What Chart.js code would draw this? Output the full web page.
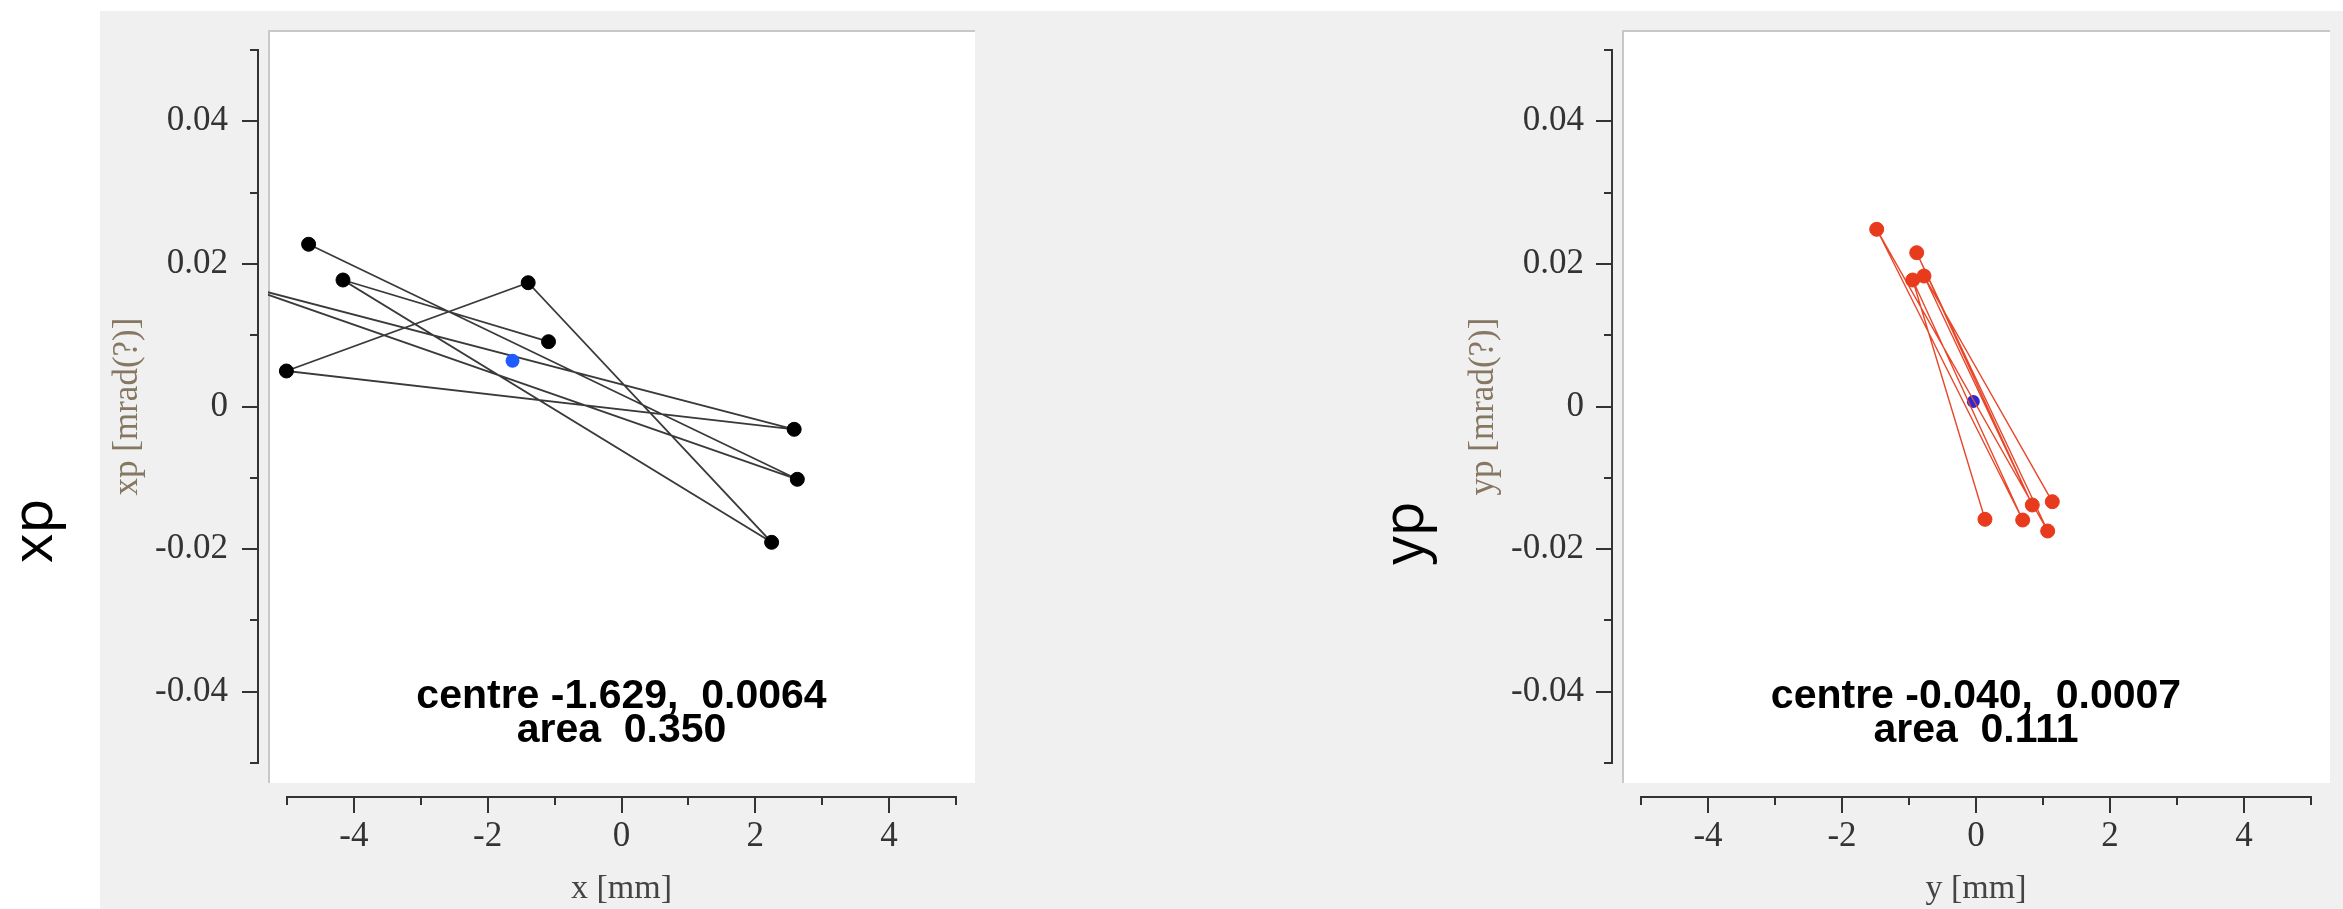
<!DOCTYPE html>
<html>
<head>
<meta charset="utf-8">
<script src="https://cdn.jsdelivr.net/npm/chart.js@4.4.1/dist/chart.umd.min.js"></script>
<style>
html,body{margin:0;padding:0;background:#fff;width:2343px;height:909px;overflow:hidden;position:relative}
#bg{position:absolute;left:100px;top:11px;width:2243px;height:898px;background:#f0f0f0}
canvas{position:absolute}
.big{position:absolute;width:140px;height:56px;line-height:56px;text-align:center;font-family:"Open Sans";font-size:57px;color:#000;transform:rotate(-90deg);white-space:nowrap}
</style>
</head>
<body>
<div id="bg"></div>
<div class="big" style="left:-40px;top:503px">xp</div>
<div class="big" style="left:1331px;top:505px">yp</div>
<canvas id="c1" width="1000" height="898" style="left:100px;top:11px"></canvas>
<canvas id="c2" width="903" height="898" style="left:1440px;top:11px"></canvas>
<script>
// ---- data ----
const xTrackX  = [-1.091, -4.163, 2.244, -1.395, -5.009, 2.581, -5.70, 2.628, -4.677];
const xTrackXP = [0.00909, 0.01774, -0.01905, 0.01736, 0.00498, -0.00320, 0.01704, -0.01021, 0.02275];
const yTrackY  = [0.134, -0.945, 0.697, -1.482, 1.070, -0.885, 0.840, -0.776, 1.139];
const yTrackYP = [-0.01582, 0.01774, -0.01592, 0.02485, -0.01746, 0.02157, -0.01381, 0.01830, -0.01335];
const centreX  = [-1.629, -0.040];
const centreXP = [0.0064, 0.0007];
const areas    = [0.350, 0.111];
const xTickValues = [-5, -4, -3, -2, -1, 0, 1, 2, 3, 4, 5];
const xTickLabels = ['', '-4', '', '-2', '', '0', '', '2', '', '4', ''];
const yTickValues = [-0.05, -0.04, -0.03, -0.02, -0.01, 0, 0.01, 0.02, 0.03, 0.04, 0.05];
const yTickLabels = ['', '-0.04', '', '-0.02', '', '0', '', '0.02', '', '0.04', ''];
const panelTitles = [['x [mm]', 'xp [mrad(?)]'], ['y [mm]', 'yp [mrad(?)]']];

const frame = {
  id: 'frame',
  beforeDraw(chart) {
    const {ctx, chartArea: a} = chart;
    ctx.save();
    ctx.fillStyle = '#ffffff';
    ctx.fillRect(a.left, a.top, a.right - a.left, a.bottom - a.top);
    ctx.fillStyle = '#c8c8c8';
    ctx.fillRect(a.left, a.top, a.right - a.left, 2);
    ctx.fillRect(a.left, a.top, 2, a.bottom - a.top);
    ctx.restore();
  },
  afterDraw(chart) {
    const {ctx, chartArea: a, scales: {x, y}} = chart;
    const o = chart.options.plugins.frame;
    ctx.save();
    ctx.strokeStyle = '#333';
    ctx.lineWidth = 2;
    // x axis (offset below plot)
    const ay = a.bottom + 14;
    ctx.beginPath();
    ctx.moveTo(x.getPixelForValue(xTickValues[0]) - 1, ay);
    ctx.lineTo(x.getPixelForValue(xTickValues[xTickValues.length - 1]) + 1, ay);
    xTickValues.forEach((v, i) => {
      const px = Math.round(x.getPixelForValue(v));
      const len = xTickLabels[i] ? 16 : 8;
      ctx.moveTo(px, ay); ctx.lineTo(px, ay + len);
    });
    ctx.stroke();
    // y axis (offset left of plot)
    const ax = a.left - 10;
    ctx.beginPath();
    ctx.moveTo(ax, y.getPixelForValue(yTickValues[yTickValues.length - 1]) - 1);
    ctx.lineTo(ax, y.getPixelForValue(yTickValues[0]) + 1);
    yTickValues.forEach((v, i) => {
      const py = Math.round(y.getPixelForValue(v));
      const len = yTickLabels[i] ? 16 : 8;
      ctx.moveTo(ax, py); ctx.lineTo(ax - len, py);
    });
    ctx.stroke();
    // centre / area annotation
    ctx.fillStyle = '#000';
    ctx.font = 'bold 41px "Liberation Sans"';
    ctx.textAlign = 'center';
    ctx.textBaseline = 'alphabetic';
    const cx = (a.left + a.right) / 2;
    ctx.fillText(o.lines[0], cx, a.bottom - 75.5);
    ctx.fillText(o.lines[1], cx, a.bottom - 41);
    ctx.restore();
  }
};

function makeChart(id, idx, tx, ty, lineColor, lineWidth, ptColor, ptRadius, cColor, cRadius, centreOnTop, yWidth, padRight, yTitlePad, yLabelPad) {
  const track = tx.map((v, i) => ({x: v, y: ty[i]}));
  const cen = [{x: centreX[idx], y: centreXP[idx]}];
  return new Chart(document.getElementById(id), {
    type: 'scatter',
    data: {
      datasets: [
        {data: track, showLine: true, borderColor: lineColor, borderWidth: lineWidth,
         pointBackgroundColor: ptColor, pointBorderColor: ptColor, pointBorderWidth: 1,
         pointRadius: ptRadius, clip: 0, order: centreOnTop ? 1 : 0},
        {data: cen, showLine: false, pointBackgroundColor: cColor, pointBorderColor: cColor,
         pointBorderWidth: 0, pointRadius: cRadius, clip: 0, order: centreOnTop ? 0 : 1}
      ]
    },
    plugins: [frame],
    options: {
      responsive: false, animation: false, devicePixelRatio: 1,
      layout: {padding: {left: 0, top: 19, right: padRight, bottom: 0}},
      plugins: {
        legend: {display: false}, tooltip: {enabled: false},
        frame: {lines: ['centre ' + centreX[idx].toFixed(3) + ',  ' + centreXP[idx].toFixed(4),
                        'area  ' + areas[idx].toFixed(3)]}
      },
      scales: {
        x: {
          type: 'linear', position: 'bottom', min: -5.284, max: 5.284,
          afterBuildTicks: s => { s.ticks = xTickValues.map(v => ({value: v})); },
          afterFit: s => { s.height = 126; s.paddingLeft = 0; s.paddingRight = 0; },
          grid: {display: false, drawTicks: false}, border: {display: false},
          ticks: {autoSkip: false, maxRotation: 0, minRotation: 0, padding: 33, color: '#333',
                  font: {family: 'Liberation Serif', size: 35, lineHeight: 1.2},
                  callback: (v, i) => xTickLabels[i]},
          title: {display: true, text: panelTitles[idx][0], color: '#444',
                  font: {family: 'Liberation Serif', size: 34, lineHeight: 1.2},
                  padding: {top: 0, bottom: 0}}
        },
        y: {
          type: 'linear', position: 'left', min: -0.0528, max: 0.0528,
          afterBuildTicks: s => { s.ticks = yTickValues.map(v => ({value: v})); },
          afterFit: s => { s.width = yWidth; s.paddingTop = 0; s.paddingBottom = 0; },
          grid: {display: false, drawTicks: false}, border: {display: false},
          ticks: {autoSkip: false, padding: yLabelPad, color: '#333',
                  font: {family: 'Liberation Serif', size: 35, lineHeight: 1.2},
                  callback: (v, i) => yTickLabels[i]},
          title: {display: true, text: panelTitles[idx][1], color: '#857762',
                  font: {family: 'Liberation Serif', size: 35, lineHeight: 1.2},
                  padding: {top: yTitlePad, bottom: 0}}
        }
      }
    }
  });
}

makeChart('c1', 0, xTrackX, xTrackXP, '#3a3a3a', 1.8, '#000000', 7, '#1f5cff', 7, true, 168, 125, 7, 40);
makeChart('c2', 1, yTrackY, yTrackYP, '#e8472a', 1.4, '#e83a1c', 7, '#2a2ad0', 6.5, false, 182, 13, 23, 38);
</script>
</body>
</html>
